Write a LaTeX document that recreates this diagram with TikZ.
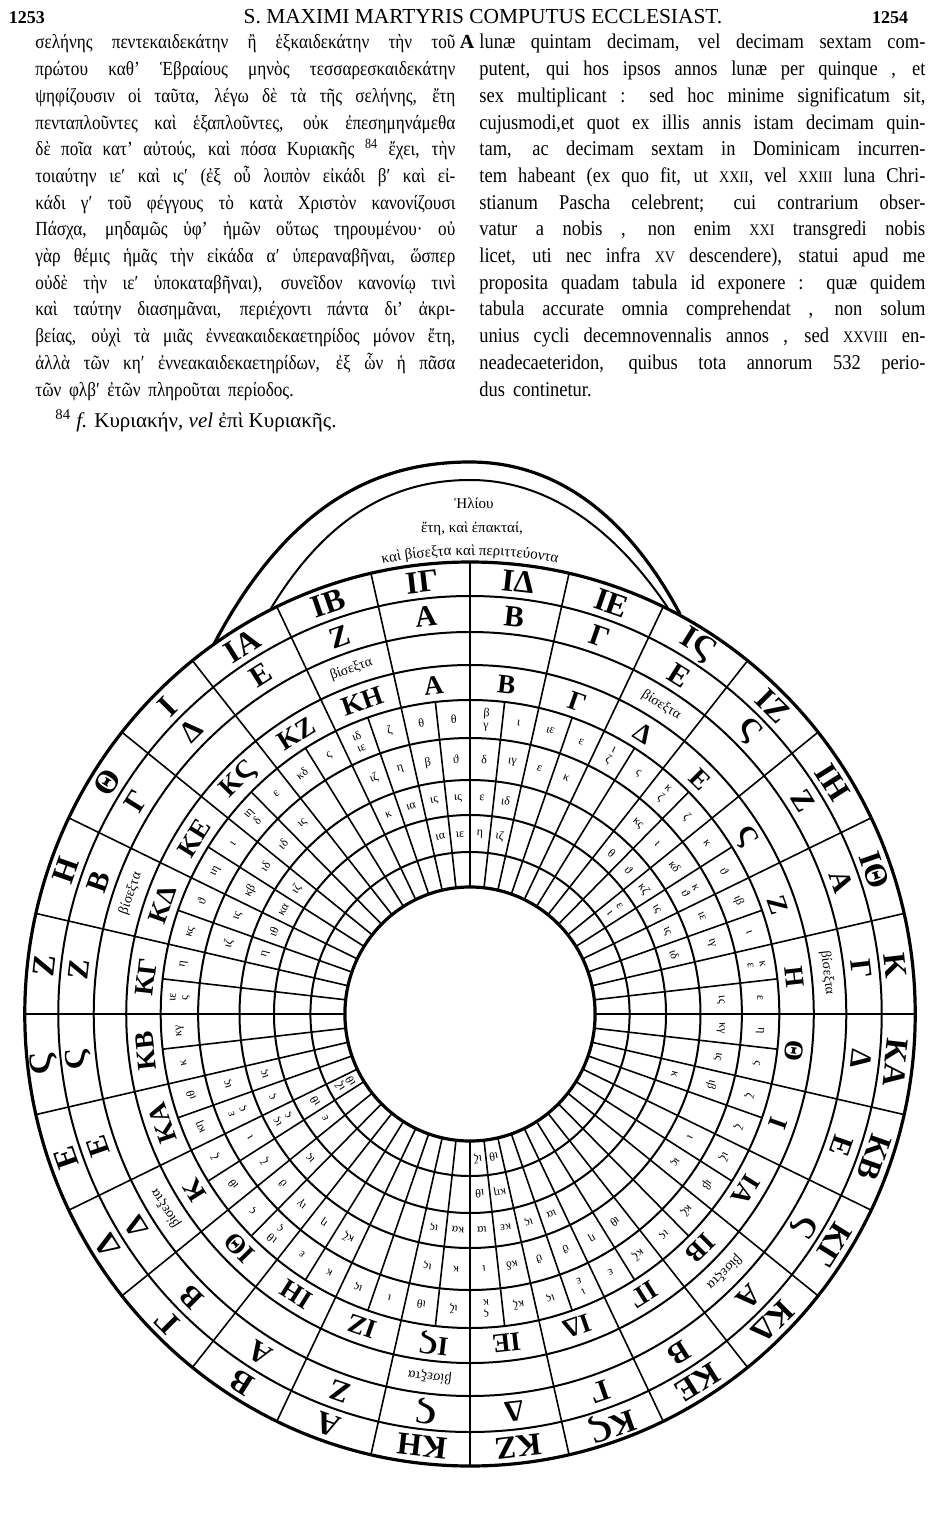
\documentclass[tikz,border=0pt]{standalone}
\usepackage{fontspec}
\setmainfont{Liberation Serif}
\newfontfamily\grfont{Liberation Serif}[FakeStretch=0.86]
\newfontfamily\latfont{Liberation Serif}[FakeStretch=0.88]
\usetikzlibrary{decorations.text}

\begin{document}
\begin{tikzpicture}[x=0.5pt, y=0.5pt,
  grline/.style={anchor=base west, inner sep=0pt, font=\grfont\fontsize{10}{12}\selectfont},
  latline/.style={anchor=base west, inner sep=0pt, font=\latfont\fontsize{10.5}{12}\selectfont},
  rim/.style={line width=1.6pt},
  ring/.style={line width=1pt},
  spoke/.style={line width=0.8pt},
  sunyr/.style={font=\bfseries\fontsize{16}{16}\selectfont, inner sep=0pt},
  conc/.style={font=\bfseries\fontsize{15}{15}\selectfont, inner sep=0pt},
  moon/.style={font=\bfseries\fontsize{13.5}{14}\selectfont, inner sep=0pt},
  bis/.style={font=\fontsize{7}{7}\selectfont, inner sep=0pt},
  num/.style={font=\fontsize{6}{6}\selectfont, inner sep=0pt, align=center}
]
  \fill[white] (0,0) rectangle (938,-1535);
  \useasboundingbox (0,0) rectangle (938,-1535);

  % running head
  \node[anchor=base, inner sep=0pt, font=\bfseries\fontsize{9}{10}\selectfont] (pgl) at (27,-24) {1253};
  \node[anchor=base, inner sep=0pt, font=\fontsize{10.7}{12}\selectfont] (title) at (483,-24) {S. MAXIMI MARTYRIS COMPUTUS ECCLESIAST.};
  \node[anchor=base, inner sep=0pt, font=\bfseries\fontsize{9}{10}\selectfont] (pgr) at (890,-24) {1254};

  % greek column
  \node[grline] (gr1) at (35,-49) {\makebox[210pt][s]{σελήνης πεντεκαιδεκάτην ἢ ἑξκαιδεκάτην τὴν τοῦ}};
  \node[grline] (gr2) at (35,-75.7) {\makebox[210pt][s]{πρώτου καθ’ Ἑβραίους μηνὸς τεσσαρεσκαιδεκάτην}};
  \node[grline] (gr3) at (35,-102.4) {\makebox[210pt][s]{ψηφίζουσιν οἱ ταῦτα, λέγω δὲ τὰ τῆς σελήνης, ἔτη}};
  \node[grline] (gr4) at (35,-129.1) {\makebox[210pt][s]{πενταπλοῦντες καὶ ἑξαπλοῦντες, οὐκ ἐπεσημηνάμεθα}};
  \node[grline] (gr5) at (35,-155.8) {\makebox[210pt][s]{δὲ ποῖα κατ’ αὐτούς, καὶ πόσα Κυριακῆς \textsuperscript{84} ἔχει, τὴν}};
  \node[grline] (gr6) at (35,-182.5) {\makebox[210pt][s]{τοιαύτην ιεʹ καὶ ιςʹ (ἐξ οὗ λοιπὸν εἰκάδι βʹ καὶ εἰ-}};
  \node[grline] (gr7) at (35,-209.2) {\makebox[210pt][s]{κάδι γʹ τοῦ φέγγους τὸ κατὰ Χριστὸν κανονίζουσι}};
  \node[grline] (gr8) at (35,-235.9) {\makebox[210pt][s]{Πάσχα, μηδαμῶς ὑφ’ ἡμῶν οὕτως τηρουμένου· οὐ}};
  \node[grline] (gr9) at (35,-262.6) {\makebox[210pt][s]{γὰρ θέμις ἡμᾶς τὴν εἰκάδα αʹ ὑπεραναβῆναι, ὥσπερ}};
  \node[grline] (gr10) at (35,-289.3) {\makebox[210pt][s]{οὐδὲ τὴν ιεʹ ὑποκαταβῆναι), συνεῖδον κανονίῳ τινὶ}};
  \node[grline] (gr11) at (35,-316) {\makebox[210pt][s]{καὶ ταύτην διασημᾶναι, περιέχοντι πάντα δι’ ἀκρι-}};
  \node[grline] (gr12) at (35,-342.7) {\makebox[210pt][s]{βείας, οὐχὶ τὰ μιᾶς ἐννεακαιδεκαετηρίδος μόνον ἔτη,}};
  \node[grline] (gr13) at (35,-369.4) {\makebox[210pt][s]{ἀλλὰ τῶν κηʹ ἐννεακαιδεκαετηρίδων, ἐξ ὧν ἡ πᾶσα}};
  \node[grline] (gr14) at (35,-396.1) {τῶν \,φλβʹ \,ἐτῶν \,πληροῦται \,περίοδος.};
  \node[anchor=base, inner sep=0pt, font=\bfseries\fontsize{10}{12}\selectfont] (marka) at (467,-49) {A};

  % latin column
  \node[latline] (la1) at (479,-49) {\makebox[223pt][s]{lunæ quintam decimam, vel decimam sextam com-}};
  \node[latline] (la2) at (479,-75.7) {\makebox[223pt][s]{putent, qui hos ipsos annos lunæ per quinque , et}};
  \node[latline] (la3) at (479,-102.4) {\makebox[223pt][s]{sex multiplicant : sed hoc minime significatum sit,}};
  \node[latline] (la4) at (479,-129.1) {\makebox[223pt][s]{cujusmodi,et quot ex illis annis istam decimam quin-}};
  \node[latline] (la5) at (479,-155.8) {\makebox[223pt][s]{tam, ac decimam sextam in Dominicam incurren-}};
  \node[latline] (la6) at (479,-182.5) {\makebox[223pt][s]{tem habeant (ex quo fit, ut {\fontsize{8}{8}\selectfont XXII}, vel {\fontsize{8}{8}\selectfont XXIII} luna Chri-}};
  \node[latline] (la7) at (479,-209.2) {\makebox[223pt][s]{stianum Pascha celebrent; cui contrarium obser-}};
  \node[latline] (la8) at (479,-235.9) {\makebox[223pt][s]{vatur a nobis , non enim {\fontsize{8}{8}\selectfont XXI} transgredi nobis}};
  \node[latline] (la9) at (479,-262.6) {\makebox[223pt][s]{licet, uti nec infra {\fontsize{8}{8}\selectfont XV} descendere), statui apud me}};
  \node[latline] (la10) at (479,-289.3) {\makebox[223pt][s]{proposita quadam tabula id exponere : quæ quidem}};
  \node[latline] (la11) at (479,-316) {\makebox[223pt][s]{tabula accurate omnia comprehendat , non solum}};
  \node[latline] (la12) at (479,-342.7) {\makebox[223pt][s]{unius cycli decemnovennalis annos , sed {\fontsize{8}{8}\selectfont XXVIII} en-}};
  \node[latline] (la13) at (479,-369.4) {\makebox[223pt][s]{neadecaeteridon, quibus tota annorum 532 perio-}};
  \node[latline] (la14) at (479,-396.1) {dus \,continetur.};

  % footnote
  \node[anchor=base west, inner sep=0pt, font=\fontsize{10.5}{12}\selectfont] (fn84) at (55,-427) {\textsuperscript{84} \textit{f.} Κυριακήν, \textit{vel} ἐπὶ Κυριακῆς.};

  % the cap over the wheel
  \draw[rim] (214,-644) .. controls (290,-500) and (380,-462) .. (470,-462) .. controls (560,-462) and (630,-520) .. (680,-614);
  \draw[ring] (270,-610) .. controls (330,-510) and (400,-480) .. (470,-480) .. controls (545,-480) and (612,-525) .. (668,-608);
  \node[inner sep=0pt, font=\fontsize{7.5}{8}\selectfont] (helios) at (474,-503) {Ἡλίου};
  \node[inner sep=0pt, font=\fontsize{7.5}{8}\selectfont] (epaktai) at (472,-529) {ἔτη, καὶ ἐπακταί,};
  \path[decorate, decoration={text along path, text align=center,
        text={|\fontsize{7.5}{8}\selectfont|καὶ βίσεξτα καὶ περιττεύοντα}}]
        (470,-1014) ++(108:459) arc[start angle=108, end angle=72, radius=459];

  % the wheel
  \begin{scope}[shift={(470,-1014)}, xscale=0.985]
    \draw[rim] (0,0) circle (452);
    \foreach \r in {418,382,349,314,276,234,199,162}
      \draw[ring] (0,0) circle (\r);
    \draw[rim] (0,0) circle (127);
    \foreach \k in {0,...,27}
      \draw[spoke] ({270-\k*12.857143}:314) -- ({270-\k*12.857143}:452);
    \foreach \j in {0,...,55}
      \draw[spoke] ({270-\j*6.4285714}:127) -- ({270-\j*6.4285714}:314);

    % sun years
    \foreach \lab [count=\n from 0] in {ΚΗ,Α,Β,Γ,Δ,Ε,Ϛ,Ζ,Η,Θ,Ι,ΙΑ,ΙΒ,ΙΓ,ΙΔ,ΙΕ,ΙϚ,ΙΖ,ΙΗ,ΙΘ,Κ,ΚΑ,ΚΒ,ΚΓ,ΚΔ,ΚΕ,ΚϚ,ΚΖ} {
      \pgfmathsetmacro{\ang}{270-(\n+0.5)*12.857143}
      \node[sunyr, rotate=\ang-90] (sun\n) at (\ang:435) {\lab};
    }
    % concurrents
    \foreach \lab [count=\n from 0] in {Ϛ,Ζ,Α,Β,Δ,Ε,Ϛ,Ζ,Β,Γ,Δ,Ε,Ζ,Α,Β,Γ,Ε,Ϛ,Ζ,Α,Γ,Δ,Ε,Ϛ,Α,Β,Γ,Δ} {
      \pgfmathsetmacro{\ang}{270-(\n+0.5)*12.857143}
      \node[conc, rotate=\ang-90] (conc\n) at (\ang:400) {\lab};
    }
    % leap years
    \foreach \n in {0,4,...,24} {
      \pgfmathsetmacro{\ang}{270-(\n+0.5)*12.857143}
      \node[bis, rotate=\ang-90] (bis\n) at (\ang:365) {βίσεξτα};
    }
    % moon years
    \foreach \lab [count=\n from 0] in {ΙϚ,ΙΖ,ΙΗ,ΙΘ,Κ,ΚΑ,ΚΒ,ΚΓ,ΚΔ,ΚΕ,ΚϚ,ΚΖ,ΚΗ,Α,Β,Γ,Δ,Ε,Ϛ,Ζ,Η,Θ,Ι,ΙΑ,ΙΒ,ΙΓ,ΙΔ,ΙΕ} {
      \pgfmathsetmacro{\ang}{270-(\n+0.5)*12.857143}
      \node[moon, rotate=\ang-90] (moon\n) at (\ang:331) {\lab};
    }
    % small figures, outer band
    \foreach \lab [count=\j from 0] in {ιζ,ιθ,ι,ις,κ,ε,{ιθ\\ς},ς,ιθ,ζ,κη,ιθ,κ,κγ,{ιε\\ς},η,
        κς,ϑ,ιη,ι,{ιη\\δ},ε,κδ,ς,{ιδ\\ιε},ζ,θ,θ,{β\\γ},ι,ιε,ε,{ι\\ζ},ς,{κ\\ζ},ζ,
        κ,ϑ,ιβ,ι,{κ\\ε},ε,η,ς,ζ,ζ,ιζ,ιβ,κζ,ις,κζ,ε,{ι\\ε},ις,κζ,{ς\\κ}} {
      \pgfmathsetmacro{\ang}{270-(\j+0.5)*6.4285714}
      \node[num, rotate=\ang-90] (a\j) at (\ang:295) {\lab};
    }
    % small figures, inner bands
    \foreach \r/\j/\t in {
        255/0/κ, 255/1/ις, 255/4/κζ, 255/5/η, 255/6/ιγ, 255/7/ϑ, 255/8/ζ, 255/9/ι,
        255/10/{ε\\ς}, 255/11/ις, 255/16/ιζ, 255/17/ις, 255/18/κβ, 255/19/ιδ,
        255/20/ιδ, 255/21/ις, 255/24/ιζ, 255/25/η, 255/26/β, 255/27/ϑ, 255/28/δ,
        255/29/ιγ, 255/30/ε, 255/31/κ, 255/34/κς, 255/35/ι, 255/36/κδ, 255/37/{κ\\ϑ},
        255/38/ιε, 255/39/ιγ, 255/41/ις, 255/42/κγ, 255/43/ις, 255/44/ιβ, 255/46/ι,
        255/47/ις, 255/50/ιθ, 255/51/η, 255/52/ϑ, 255/53/ϑ, 255/54/κδ, 255/55/ι,
        216/0/κα, 216/1/ις, 216/7/ις, 216/9/{ις\\ς}, 216/10/ς, 216/11/ις, 216/16/η,
        216/17/ιθ, 216/18/κα, 216/19/ιζ, 216/24/κ, 216/25/ια, 216/26/ις, 216/27/ις,
        216/28/ε, 216/29/ιδ, 216/34/θ, 216/35/ϑ, 216/36/κζ, 216/37/ις, 216/38/ις,
        216/39/ιδ, 216/44/κ, 216/52/ια, 216/53/ις, 216/54/κε, 216/55/ια,
        180/8/ε, 180/9/ιθ, 180/26/ια, 180/27/ιε, 180/28/η, 180/29/ιζ, 180/36/{ε\\ι},
        180/54/κη, 180/55/ιθ,
        145/9/{ιζ\\ιθ}, 145/54/ιθ, 145/55/ιζ} {
      \pgfmathsetmacro{\ang}{270-(\j+0.5)*6.4285714}
      \node[num, rotate=\ang-90] (c\r-\j) at (\ang:\r) {\t};
    }
  \end{scope}
\end{tikzpicture}
\end{document}
